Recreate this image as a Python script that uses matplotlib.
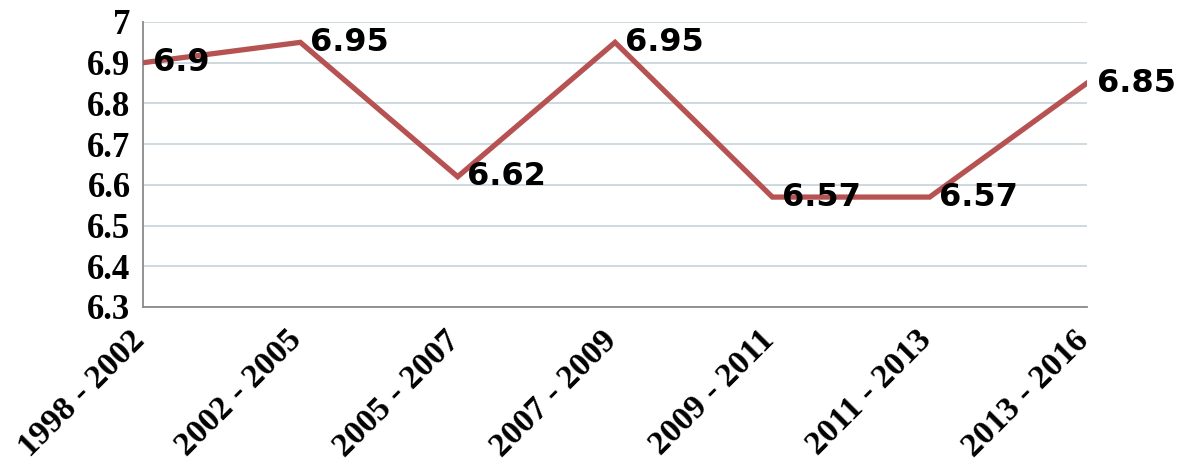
import matplotlib.pyplot as plt
from matplotlib.ticker import FuncFormatter
from matplotlib.transforms import ScaledTranslation

periods = ['1998 - 2002', '2002 - 2005', '2005 - 2007', '2007 - 2009',
           '2009 - 2011', '2011 - 2013', '2013 - 2016']
values = [6.9, 6.95, 6.62, 6.95, 6.57, 6.57, 6.85]
y_ticks = [6.3, 6.4, 6.5, 6.6, 6.7, 6.8, 6.9, 7.0]

fig = plt.figure(figsize=(11.88, 4.65), dpi=100)
ax = fig.add_axes([0.1204, 0.3398, 0.7946, 0.6129])

x = list(range(len(periods)))
ax.plot(x, values, color='#b65352', linewidth=3.8, solid_joinstyle='miter', zorder=3)

for xi, v in zip(x, values):
    ax.annotate(f'{v:g}', (xi, v), xytext=(7, 0), textcoords='offset points',
                ha='left', va='center', fontsize=23, fontweight='bold',
                family='DejaVu Sans', color='black', zorder=4,
                annotation_clip=False)

ax.set_xlim(0, len(periods) - 1)
ax.set_ylim(6.3, 7.0)
ax.set_yticks(y_ticks)
ax.yaxis.set_major_formatter(FuncFormatter(lambda v, p: f'{v:g}'))
ax.set_xticks(x)
ax.set_xticklabels(periods, rotation=45, ha='right', va='center',
                   rotation_mode='anchor')

# tick params first: it resets the label transforms
ax.tick_params(axis='both', length=0)
ax.tick_params(axis='y', pad=9)
ax.tick_params(axis='x', pad=4)

for lab in ax.get_yticklabels():
    lab.set_fontfamily('Liberation Serif')
    lab.set_fontweight('bold')
    lab.set_fontsize(25)

shift = ScaledTranslation(-3 / 100, -23 / 100, fig.dpi_scale_trans)
for lab in ax.get_xticklabels():
    lab.set_fontfamily('Liberation Serif')
    lab.set_fontweight('bold')
    lab.set_fontsize(24.5)
    lab.set_transform(lab.get_transform() + shift)

ax.grid(axis='y', color='#c9d5dd', linewidth=1.3)
ax.set_axisbelow(True)
for side in ['top', 'right']:
    ax.spines[side].set_visible(False)
for side in ['left', 'bottom']:
    ax.spines[side].set_color('#8a8a8a')
    ax.spines[side].set_linewidth(1.3)

plt.savefig('out.png', dpi=100)
